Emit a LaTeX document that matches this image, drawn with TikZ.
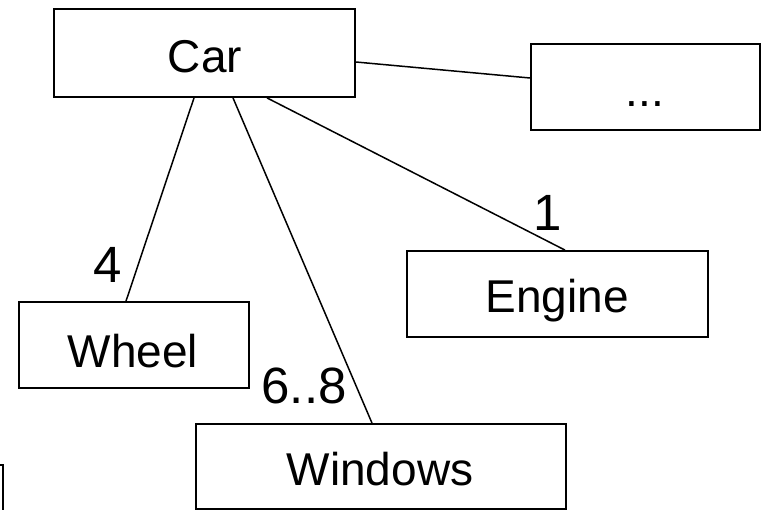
\documentclass[tikz,border=0pt]{standalone}
\usepackage{fontspec}
\setmainfont{Liberation Sans}
\usetikzlibrary{positioning}
\begin{document}
\begin{tikzpicture}[x=1pt,y=-1pt,
  box/.style={draw,line width=1.8pt,inner sep=0pt},
  conn/.style={line width=1.5pt},
  boxtext/.style={anchor=base,inner sep=0pt,font=\fontsize{46}{50}\selectfont},
  mult/.style={anchor=base,inner sep=0pt,font=\fontsize{51}{55}\selectfont}]
\useasboundingbox (0,0) rectangle (763,509);
% boxes
\node[box,minimum width=301pt,minimum height=88pt] (car) at (204.5,53) {};
\node[box,minimum width=229pt,minimum height=86pt] (etc) at (645.5,87) {};
\node[box,minimum width=230pt,minimum height=86pt] (wheel) at (134,345) {};
\node[box,minimum width=301pt,minimum height=86pt] (engine) at (557.5,294) {};
\node[box,minimum width=370pt,minimum height=85pt] (windows) at (381,466.5) {};
% texts
\node[boxtext] (tcar) at (205,72) {Car};
\node[boxtext] (tetc) at (645,106) {...};
\node[boxtext] (twheel) at (133,367) {Wheel};
\node[boxtext] (tengine) at (557,312) {Engine};
\node[boxtext] (twindows) at (380,485) {Windows};
% multiplicities
\node[mult] (m4) at (107.5,282) {4};
\node[mult] (m1) at (548,230) {1};
\node[mult] (m68) at (304,403) {6..8};
% connectors
\draw[conn] ([yshift=-9pt]car.east) -- ([yshift=9pt]etc.west);
\draw[conn] ([xshift=-10.5pt]car.south) -- ([xshift=-8pt]wheel.north);
\draw[conn] ([xshift=28.5pt]car.south) -- ([xshift=-9pt]windows.north);
\draw[conn] ([xshift=62.5pt]car.south) -- ([xshift=7.5pt]engine.north);
% partial shape at the lower left edge
\draw[line width=1.6pt] (-2,465) -- (3,465) -- (3,512);
\end{tikzpicture}
\end{document}
